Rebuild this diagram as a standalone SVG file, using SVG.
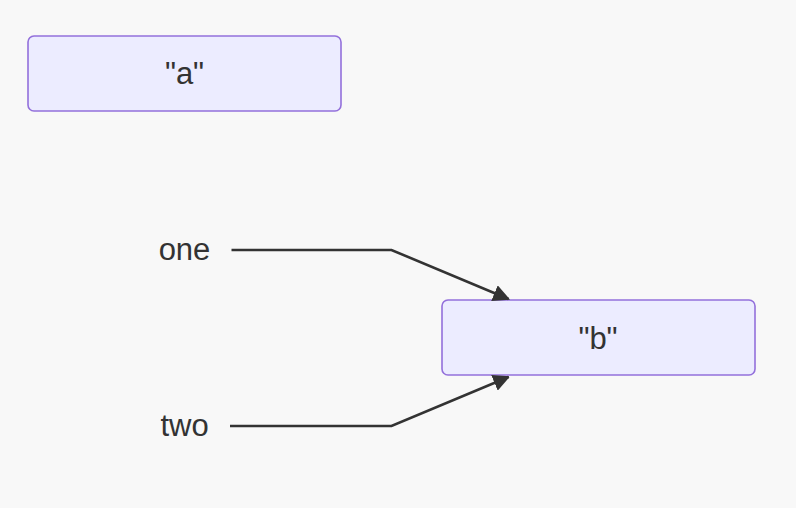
<svg xmlns="http://www.w3.org/2000/svg" width="796" height="508" viewBox="0 0 796 508">
<style>
.node rect{fill:#ECECFF;stroke:#9370DB;stroke-width:1.6}
.lbl{font-family:"Liberation Sans",Arial,sans-serif;font-size:31px;fill:#333;text-anchor:middle}
.edge{fill:none;stroke:#333;stroke-width:2.6}
</style>
<defs>
<marker id="arrow" viewBox="0 0 10 10" refX="9" refY="5" markerWidth="6.5" markerHeight="6.5" markerUnits="strokeWidth" orient="auto">
<path d="M0,0 L10,5 L0,10 z" fill="#333"/>
</marker>
</defs>
<rect width="796" height="508" fill="#f8f8f8"/>
<g id="node-a" class="node">
<rect x="28" y="36" width="313" height="75" rx="6"/>
<text class="lbl" x="184.5" y="84">"a"</text>
</g>
<g id="node-b" class="node">
<rect x="442" y="300" width="313" height="75" rx="6"/>
<text class="lbl" x="598" y="348.5">"b"</text>
</g>
<g id="label-one"><text class="lbl" x="184.5" y="260">one</text></g>
<g id="label-two"><text class="lbl" x="184.5" y="436">two</text></g>
<g id="connectors">
<path class="edge" d="M231.5,250 L391.5,250 L508.5,299" marker-end="url(#arrow)"/>
<path class="edge" d="M230,426 L391.5,426 L508.5,377" marker-end="url(#arrow)"/>
</g>
</svg>
